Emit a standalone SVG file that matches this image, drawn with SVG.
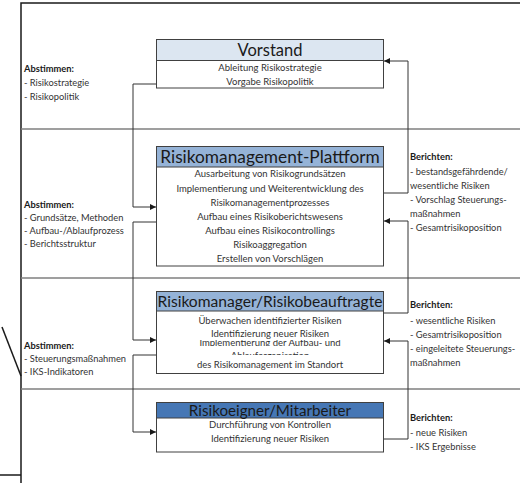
<svg xmlns="http://www.w3.org/2000/svg" width="520" height="483" viewBox="0 0 520 483">
  <defs>
    <marker id="arr" viewBox="0 0 6 6" refX="6" refY="3" markerWidth="6" markerHeight="6" markerUnits="userSpaceOnUse" orient="auto">
      <path d="M0,0 L6,3 L0,6 z" fill="#1a1a1a"/>
    </marker>
    <clipPath id="clipImpl"><rect x="156" y="340" width="228" height="6"/></clipPath>
    <clipPath id="clipAbl"><rect x="156" y="352" width="228" height="3"/></clipPath>
  </defs>
  <style>
    .frame { stroke: #1a1a1a; stroke-width: 1.5; fill: none; }
    .sep { stroke: #808080; stroke-width: 1.5; fill: none; }
    .box { fill: #ffffff; stroke: #404040; stroke-width: 1; }
    .hd { stroke: #404040; stroke-width: 1; }
    .title { font-family: Lato, "Liberation Sans", sans-serif; text-anchor: middle; fill: #1a1a1a; }
    .row { font-family: Lato, "Liberation Sans", sans-serif; font-size: 9.5px; text-anchor: middle; fill: #333333; }
    .side { font-family: Lato, "Liberation Sans", sans-serif; font-size: 9.3px; fill: #333333; }
    .side .b { font-weight: bold; fill: #1a1a1a; }
    .conn { stroke: #333333; stroke-width: 1; fill: none; }
  </style>
  <rect width="520" height="483" fill="#ffffff"/>

  <!-- page frame and band separators -->
  <g id="frame">
    <path class="frame" d="M21,483 V3 H520"/>
    <path class="frame" d="M0,475 H21"/>
    <path class="frame" d="M2,327 L21,376"/>
    <path class="sep" d="M21,129 H520 M21,278 H520 M21,389 H520"/>
  </g>

  <g id="vorstand">
    <rect class="box" x="156.5" y="39.5" width="227" height="48.5"/>
    <rect class="hd" x="156.5" y="39.5" width="227" height="21" fill="#dce6f1"/>
    <text class="title" x="270" y="56" font-size="16.5">Vorstand</text>
    <text class="row" x="270" y="71">Ableitung Risikostrategie</text>
    <text class="row" x="270" y="85">Vorgabe Risikopolitik</text>
  </g>

  <g id="plattform">
    <rect class="box" x="156.5" y="146.5" width="227" height="119.5"/>
    <rect class="hd" x="156.5" y="146.5" width="227" height="20.5" fill="#95b3d7"/>
    <text class="title" x="270" y="163" font-size="17.3">Risikomanagement-Plattform</text>
    <text class="row" x="270" y="177">Ausarbeitung von Risikogrundsätzen</text>
    <text class="row" x="270" y="192">Implementierung und Weiterentwicklung des</text>
    <text class="row" x="270" y="206">Risikomanagementprozesses</text>
    <text class="row" x="270" y="220">Aufbau eines Risikoberichtswesens</text>
    <text class="row" x="270" y="234">Aufbau eines Risikocontrollings</text>
    <text class="row" x="270" y="248">Risikoaggregation</text>
    <text class="row" x="270" y="262">Erstellen von Vorschlägen</text>
  </g>

  <g id="risikomanager">
    <rect class="box" x="156.5" y="291.5" width="227" height="82"/>
    <rect class="hd" x="156.5" y="291.5" width="227" height="19.5" fill="#95b3d7"/>
    <text class="title" x="270" y="307" font-size="15.6">Risikomanager/Risikobeauftragte</text>
    <text class="row" x="270" y="324">Überwachen identifizierter Risiken</text>
    <text class="row" x="270" y="337">Identifizierung neuer Risiken</text>
    <!-- rows partly hidden behind the neighbouring lines -->
    <text class="row" x="270" y="346" clip-path="url(#clipImpl)">Implementierung der Aufbau- und</text>
    <text class="row" x="270" y="359" clip-path="url(#clipAbl)">Ablauforganisation</text>
    <text class="row" x="270" y="368">des Risikomanagement im Standort</text>
  </g>

  <g id="risikoeigner">
    <rect class="box" x="156.5" y="402.5" width="227" height="49.5"/>
    <rect class="hd" x="156.5" y="402.5" width="227" height="15.5" fill="#4677b5"/>
    <text class="title" x="270" y="415.5" font-size="15.2" fill="#1f3864">Risikoeigner/Mitarbeiter</text>
    <text class="row" x="270" y="428">Durchführung von Kontrollen</text>
    <text class="row" x="270" y="442">Identifizierung neuer Risiken</text>
  </g>

  <!-- coordination notes (left) and reporting notes (right) -->
  <g id="notes" class="side">
    <text x="24" y="72"><tspan class="b">Abstimmen:</tspan></text>
    <text x="24" y="86">- Risikostrategie</text>
    <text x="24" y="100">- Risikopolitik</text>

    <text x="24" y="208"><tspan class="b">Abstimmen:</tspan></text>
    <text x="24" y="221">- Grundsätze, Methoden</text>
    <text x="24" y="234">- Aufbau-/Ablaufprozess</text>
    <text x="24" y="247">- Berichtsstruktur</text>

    <text x="24" y="349"><tspan class="b">Abstimmen:</tspan></text>
    <text x="24" y="362">- Steuerungsmaßnahmen</text>
    <text x="24" y="375">- IKS-Indikatoren</text>

    <text x="410" y="160"><tspan class="b">Berichten:</tspan></text>
    <text x="410" y="175">- bestandsgefährdende/</text>
    <text x="410" y="189">wesentliche Risiken</text>
    <text x="410" y="203">- Vorschlag Steuerungs-</text>
    <text x="410" y="217">maßnahmen</text>
    <text x="410" y="231">- Gesamtrisikoposition</text>

    <text x="410" y="308"><tspan class="b">Berichten:</tspan></text>
    <text x="410" y="324">- wesentliche Risiken</text>
    <text x="410" y="338">- Gesamtrisikoposition</text>
    <text x="410" y="352">- eingeleitete Steuerungs-</text>
    <text x="410" y="366">maßnahmen</text>

    <text x="410" y="421"><tspan class="b">Berichten:</tspan></text>
    <text x="410" y="436">- neue Risiken</text>
    <text x="410" y="450">- IKS Ergebnisse</text>
  </g>

  <g id="connectors">
    <path class="conn" d="M156,84 H133 V207 H156" marker-end="url(#arr)"/>
    <path class="conn" d="M156,222 H133 V340 H156" marker-end="url(#arr)"/>
    <path class="conn" d="M156,355 H133 V432 H156" marker-end="url(#arr)"/>
    <path class="conn" d="M384,193 H408 V61 H384" marker-end="url(#arr)"/>
    <path class="conn" d="M384,313 H408 V221 H384" marker-end="url(#arr)"/>
    <path class="conn" d="M384,439 H408 V341 H384" marker-end="url(#arr)"/>
  </g>
</svg>
